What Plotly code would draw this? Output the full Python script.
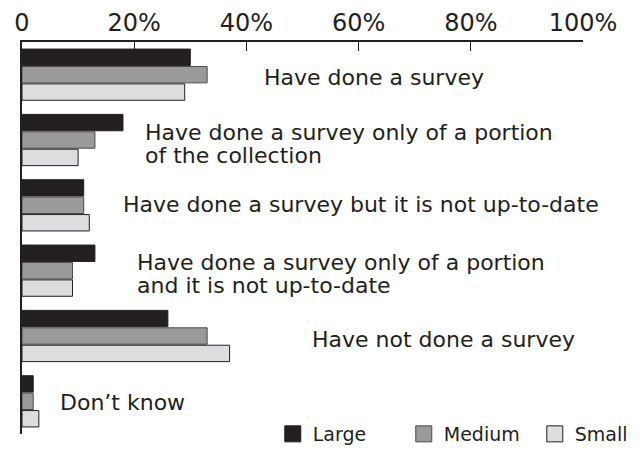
import plotly.graph_objects as go

categories = [
    "Have done a survey",
    "Have done a survey only of a portion\nof the collection",
    "Have done a survey but it is not up-to-date",
    "Have done a survey only of a portion\nand it is not up-to-date",
    "Have not done a survey",
    "Don\u2019t know",
]
large = [30, 18, 11, 13, 26, 2]
medium = [33, 13, 11, 9, 33, 2]
small = [29, 10, 12, 9, 37, 3]

tick_vals = [0, 20, 40, 60, 80, 100]
tick_text = ["0", "20%", "40%", "60%", "80%", "100%"]

# where each category label starts (in % along the axis) and how far below
# the group centre the text block sits (px)
label_x = [42.7, 21.6, 17.6, 20.1, 51.3, 6.4]
label_dy = [3, 3.5, -1, 3.5, 3, 1]
LINE_GAP = 23

FONT = "'DejaVu Sans', sans-serif"
INK = "#231f20"

series = [
    ("Large", large, "#231f20", INK),
    ("Medium", medium, "#9a9a9a", "#4a4a4a"),
    ("Small", small, "#dcdddf", INK),
]

ypos = list(range(len(categories)))

fig = go.Figure()
for name, vals, color, edge in series:
    fig.add_trace(go.Bar(
        y=ypos, x=vals, orientation="h", name=name,
        marker=dict(color=color, line=dict(color=edge, width=1)),
        showlegend=False, hoverinfo="x+name",
    ))
# legend entries with bigger square swatches
for name, vals, color, edge in series:
    fig.add_trace(go.Scatter(
        x=[None], y=[None], mode="markers", name=name,
        marker=dict(symbol="square", size=20, color=color,
                    line=dict(color=edge, width=1)),
    ))

for i, txt in enumerate(categories):
    lines = txt.split("\n")
    n = len(lines)
    for k, line in enumerate(lines):
        dy = label_dy[i] + (k - (n - 1) / 2) * LINE_GAP
        fig.add_annotation(
            x=label_x[i], y=i, text=line, showarrow=False,
            xanchor="left", yanchor="middle", align="left",
            yshift=-dy,
            font=dict(family=FONT, size=22, color=INK),
        )

# page body has an 8px margin, so the figure is 8px smaller and shifted
fig.update_layout(
    width=636, height=445,
    margin=dict(l=14, r=61, t=34, b=19, autoexpand=False),
    paper_bgcolor="white", plot_bgcolor="white",
    barmode="group", bargap=0.2, bargroupgap=0.06,
    font=dict(family=FONT, size=21, color=INK),
    legend=dict(orientation="h", x=0.447, xanchor="left", y=0.0, yanchor="middle",
                bgcolor="rgba(0,0,0,0)", font=dict(size=19, color=INK),
                entrywidth=86, tracegroupgap=0),
    xaxis=dict(side="top", range=[0, 100], tickvals=tick_vals, ticktext=tick_text,
               ticks="inside", ticklen=9, tickcolor=INK, showline=True,
               linecolor=INK, linewidth=1.5, showgrid=False, zeroline=False,
               tickfont=dict(size=24, color=INK), automargin=False,
               ticklabelstandoff=0),
    yaxis=dict(range=[5.5, -0.5], showline=True, linecolor=INK, linewidth=1.5,
               showticklabels=False, ticks="", showgrid=False, zeroline=False,
               automargin=False),
)

fig.write_html("out.html")
